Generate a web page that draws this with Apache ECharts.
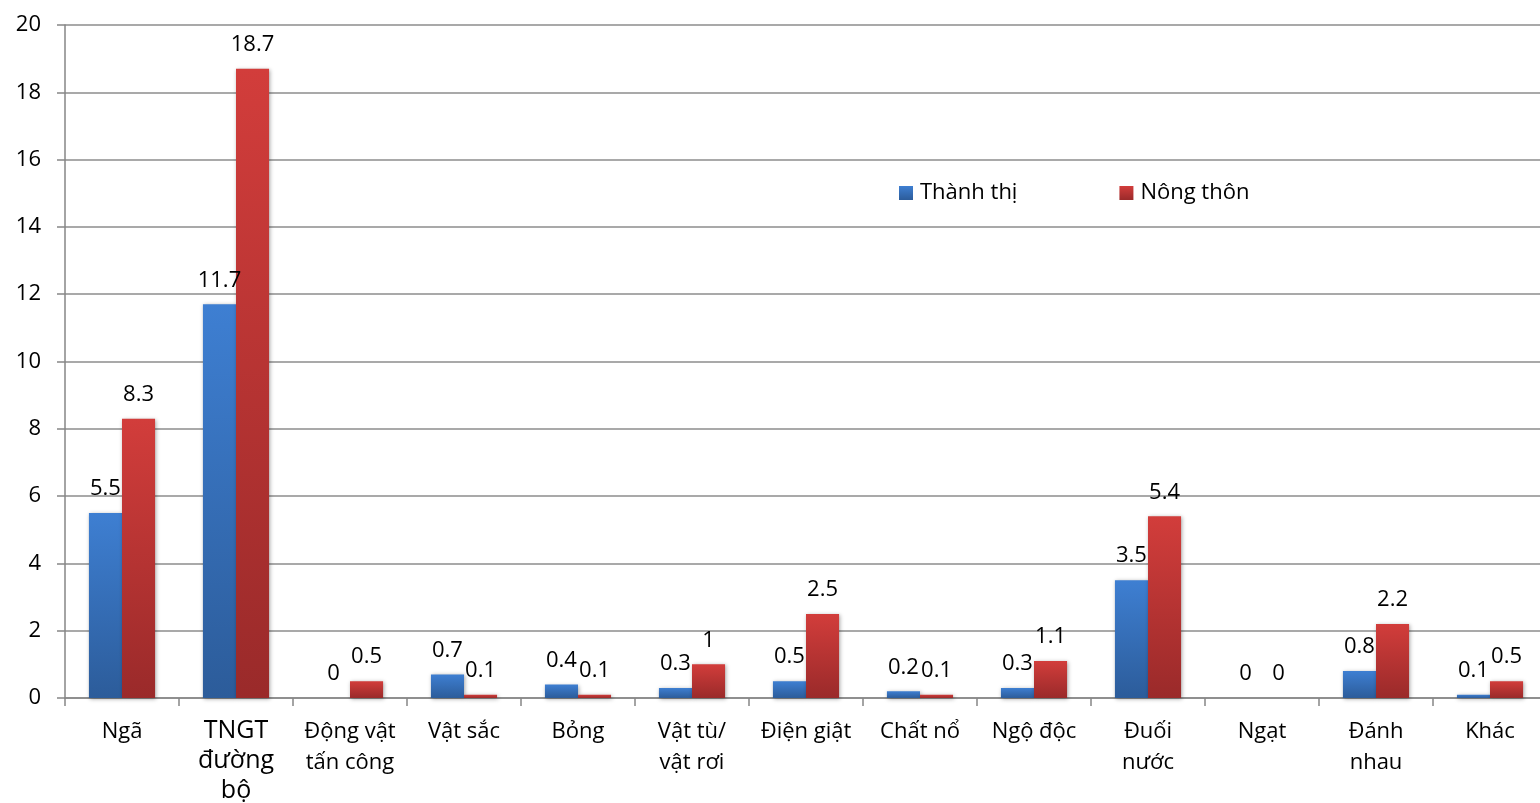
<!DOCTYPE html>
<html>
<head>
<meta charset="utf-8">
<script src="https://cdn.jsdelivr.net/npm/echarts@6/dist/echarts.min.js"></script>
<style>
  html, body { margin: 0; padding: 0; background: #fff; }
  #chart { width: 1540px; height: 803px; }
</style>
</head>
<body>
<div id="chart"></div>
<script>
// Injury causes (categories) and rates for urban / rural areas
const categories = ['Ngã', 'TNGT\nđường\nbộ', 'Động vật\ntấn công', 'Vật sắc', 'Bỏng', 'Vật tù/\nvật rơi',
  'Điện giật', 'Chất nổ', 'Ngộ độc', 'Đuối\nnước', 'Ngạt', 'Đánh\nnhau', 'Khác'];
const seriesNames = ['Thành thị', 'Nông thôn'];
const urbanValues = [5.5, 11.7, 0, 0.7, 0.4, 0.3, 0.5, 0.2, 0.3, 3.5, 0, 0.8, 0.1];
const ruralValues = [8.3, 18.7, 0.5, 0.1, 0.1, 1, 2.5, 0.1, 1.1, 5.4, 0, 2.2, 0.5];
const yTicks = { min: 0, max: 20, interval: 2 };

const FONT = '"Open Sans", "Noto Sans", sans-serif';
const grad = (top, bottom) => new echarts.graphic.LinearGradient(0, 0, 0, 1, [
  { offset: 0, color: top }, { offset: 1, color: bottom }
]);

const barStyle = (top, bottom) => ({
  color: grad(top, bottom),
  shadowColor: 'rgba(0,0,0,0.35)',
  shadowBlur: 4,
  shadowOffsetX: 1,
  shadowOffsetY: 1
});

const valueLabel = {
  show: true,
  position: 'top',
  distance: 13,
  color: '#000',
  fontFamily: FONT,
  fontSize: 22
};

const chart = echarts.init(document.getElementById('chart'), null, { renderer: 'canvas' });
chart.setOption({
  animation: false,
  backgroundColor: '#fff',
  // plot area runs slightly past the right edge of the canvas
  grid: { left: 65, width: 1482, top: 25, bottom: 105, containLabel: false, outerBoundsMode: 'none' },
  legend: {
    data: seriesNames,
    left: 899,
    top: 182,
    padding: 0,
    icon: 'rect',
    itemWidth: 14,
    itemHeight: 14,
    itemGap: 102,
    textStyle: { fontFamily: FONT, fontSize: 22, color: '#000', padding: [0, 0, 0, 2] }
  },
  xAxis: {
    type: 'category',
    data: categories,
    boundaryGap: true,
    axisLine: { lineStyle: { color: '#868686', width: 1.5 } },
    axisTick: { show: true, length: 8, interval: 0, lineStyle: { color: '#868686', width: 1.5 } },
    axisLabel: {
      interval: 0,
      margin: 18,
      color: '#000',
      fontFamily: FONT,
      fontSize: 22,
      lineHeight: 31,
      formatter: (v) => v.startsWith('TNGT')
        ? v.split('\n').map(s => '{big|' + s + '}').join('\n')
        : v,
      rich: {
        big: { fontFamily: FONT, fontSize: 25, lineHeight: 30, color: '#000' }
      }
    }
  },
  yAxis: {
    type: 'value',
    min: yTicks.min,
    max: yTicks.max,
    interval: yTicks.interval,
    axisLine: { show: true, lineStyle: { color: '#868686', width: 1.5 } },
    axisTick: { show: true, length: 8, lineStyle: { color: '#868686', width: 1.5 } },
    splitLine: { show: true, lineStyle: { color: '#8c8c8c', width: 1.5 } },
    axisLabel: { margin: 24, color: '#000', fontFamily: FONT, fontSize: 22 }
  },
  series: [
    {
      name: seriesNames[0],
      type: 'bar',
      data: urbanValues,
      barGap: '0%',
      barCategoryGap: '42%',
      itemStyle: barStyle('#3e7fd2', '#2c5c9a'),
      label: valueLabel
    },
    {
      name: seriesNames[1],
      type: 'bar',
      data: ruralValues,
      barGap: '0%',
      barCategoryGap: '42%',
      itemStyle: barStyle('#d23d3b', '#9a2a2a'),
      label: valueLabel
    }
  ]
});
</script>
</body>
</html>
